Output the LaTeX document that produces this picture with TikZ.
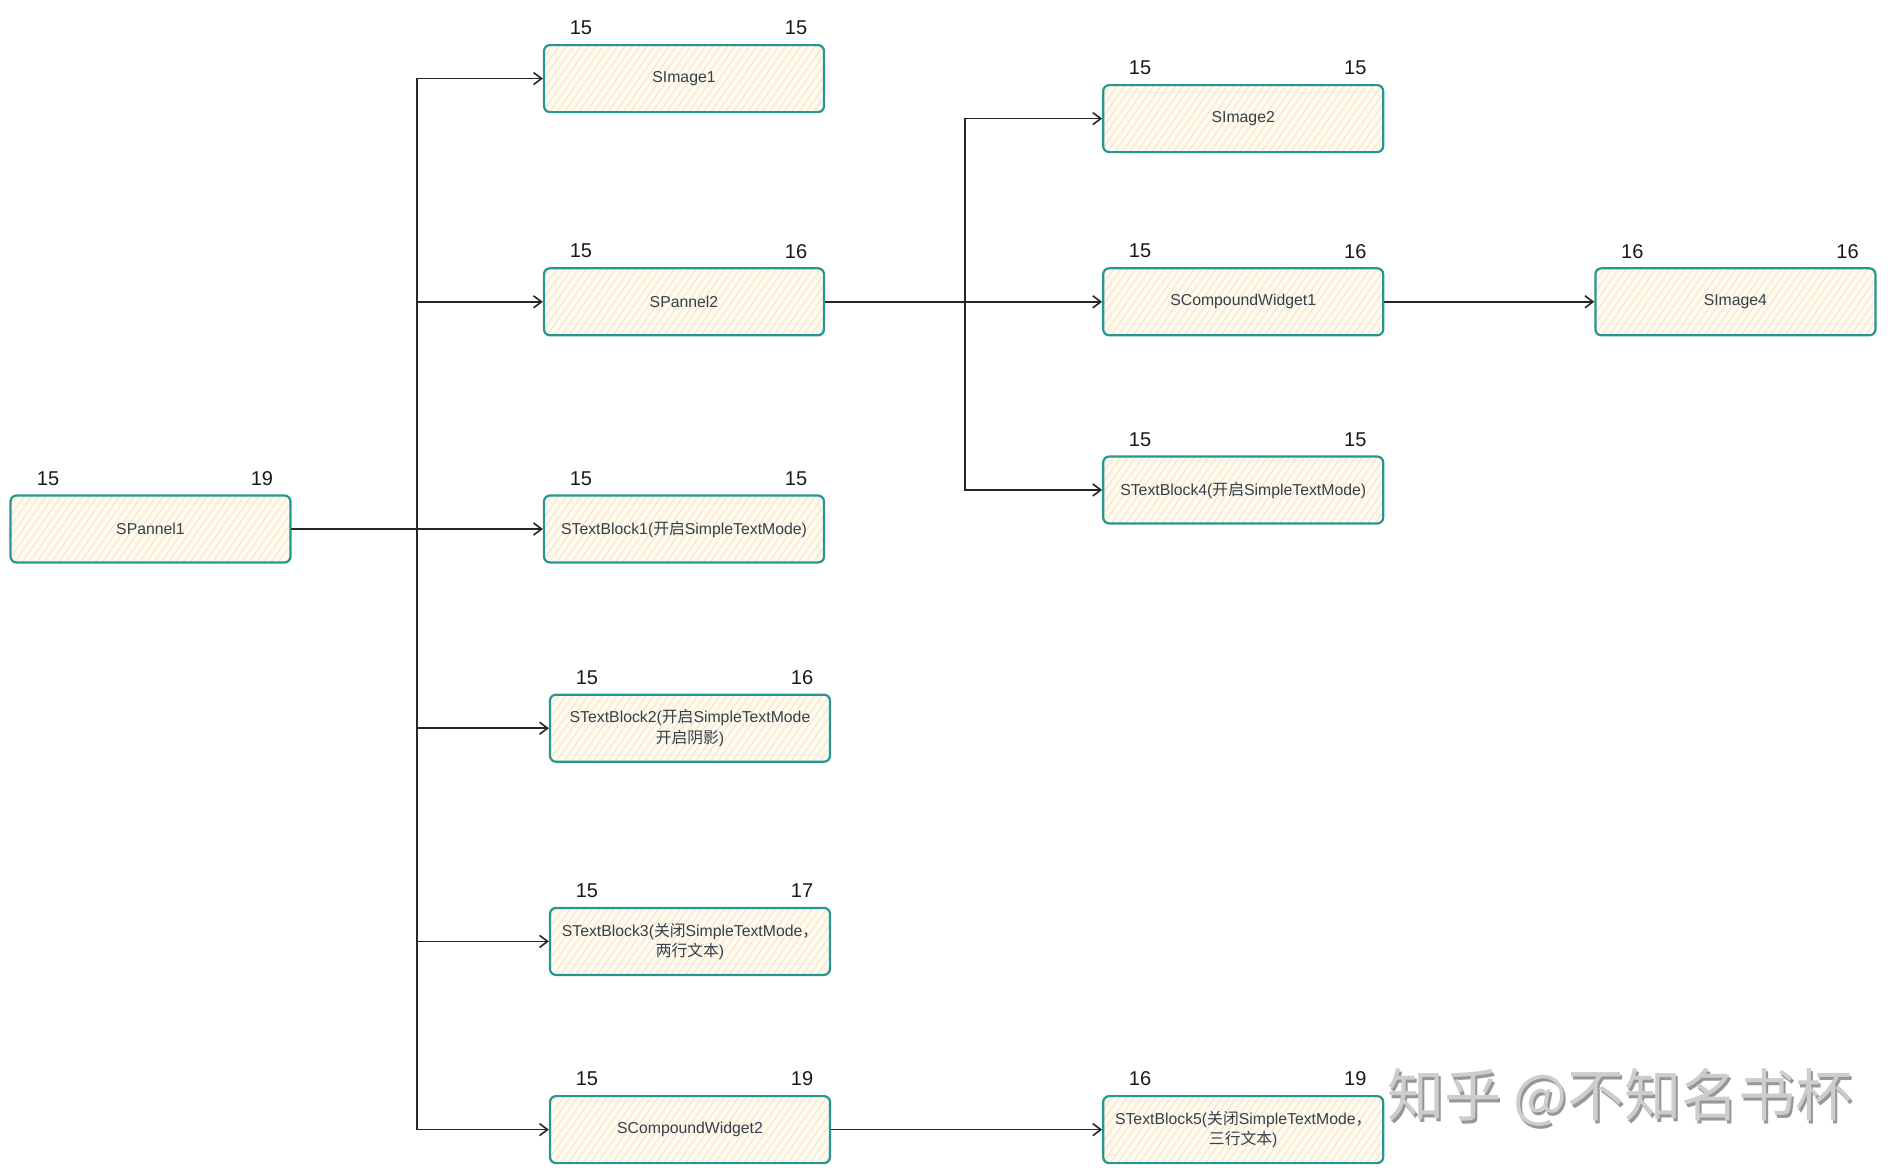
\documentclass[tikz,border=0pt]{standalone}
\usepackage{fontspec}
\setmainfont{Liberation Sans}
\newfontfamily\cjk{Noto Sans CJK SC}
\usetikzlibrary{positioning}
\usetikzlibrary{arrows.meta,patterns.meta}
\definecolor{boxline}{RGB}{38,150,145}
\definecolor{boxfill}{RGB}{254,250,240}
\definecolor{hatch}{RGB}{247,224,186}
\definecolor{boxtext}{RGB}{52,64,74}
\definecolor{markgray}{RGB}{205,205,205}
\definecolor{markshade}{RGB}{150,150,150}
\tikzset{block/.style 2 args={draw=boxline,line width=1.1pt,rounded corners=3pt,
    minimum width=140pt,minimum height=33.5pt,inner sep=2pt,align=center,
    preaction={fill=boxfill},pattern={Lines[angle=55,distance=3pt,line width=0.4pt]},
    pattern color=hatch,text=boxtext,font=\fontsize{7.9}{10.3}\selectfont,
    label={[numleft]north west:#1},label={[numright]north east:#2}},
    numleft/.style={anchor=center,xshift=19pt,yshift=8pt,
    font=\fontsize{10}{10}\selectfont,text=black!90},
    numright/.style={anchor=center,xshift=-14.5pt,yshift=8pt,
    font=\fontsize{10}{10}\selectfont,text=black!90},
    linkarrow/.style={-{Straight Barb[length=4pt,width=6pt]},
    line width=0.8pt,black!85},
    linkline/.style={-,line width=0.8pt,black!85}}

\begin{document}
\begin{tikzpicture}[x=0.5pt,y=-0.5pt]
        \useasboundingbox (0,0) rectangle (1901,1169);
        \node[block={15}{19}] (pannel1) at (150.5,529) {SPannel1};
        \node[block={15}{15},right=126pt of pannel1] (textblock1)
            {STextBlock1({\cjk 开启}SimpleTextMode)};
        \node[block={15}{16},above=79pt of textblock1] (pannel2) {SPannel2};
        \node[block={15}{15},above=77pt of pannel2] (image1) {SImage1};
        \node[block={15}{16},below=65pt of textblock1,xshift=3pt] (textblock2)
            {STextBlock2({\cjk 开启}SimpleTextMode\\{\cjk 开启阴影})};
        \node[block={15}{17},below=72pt of textblock2] (textblock3)
            {STextBlock3({\cjk 关闭}SimpleTextMode{\cjk ，}\\{\cjk 两行文本})};
        \node[block={15}{19},below=59.5pt of textblock3] (compound2) {SCompoundWidget2};
        \node[block={15}{16},right=138.5pt of pannel2] (compound1) {SCompoundWidget1};
        \node[block={15}{15},above=57pt of compound1] (image2) {SImage2};
        \node[block={15}{15},below=59.5pt of compound1] (textblock4)
            {STextBlock4({\cjk 开启}SimpleTextMode)};
        \node[block={16}{16},right=105pt of compound1] (image4) {SImage4};
        \node[block={16}{19},right=135.5pt of compound2] (textblock5)
            {STextBlock5({\cjk 关闭}SimpleTextMode{\cjk ，}\\{\cjk 三行文本})};
        % watermark
        \node[text=markshade,font=\cjk\fontsize{28.5}{28.5}\selectfont]
            (markshadow) at (1622,1100) {知乎 @不知名书杯};
        \node[text=markgray,font=\cjk\fontsize{28.5}{28.5}\selectfont]
            (watermark) at (1620,1097) {知乎 @不知名书杯};
        \coordinate (trunk1) at ([xshift=63pt]pannel1.east);
        \coordinate (trunk2) at ([xshift=70pt]pannel2.east);
        \draw[linkline](pannel1.east)--(trunk1);
        \draw[linkarrow](trunk1)|-(image1.west);
        \draw[linkarrow](trunk1)|-(pannel2.west);
        \draw[linkarrow](trunk1)|-(textblock1.west);
        \draw[linkarrow](trunk1)|-(textblock2.west);
        \draw[linkarrow](trunk1)|-(textblock3.west);
        \draw[linkarrow](trunk1)|-(compound2.west);
        \draw[linkline](pannel2.east)--(trunk2);
        \draw[linkarrow](trunk2)|-(image2.west);
        \draw[linkarrow](trunk2)|-(compound1.west);
        \draw[linkarrow](trunk2)|-(textblock4.west);
        \draw[linkarrow](compound1)--(image4);
        \draw[linkarrow](compound2)--(textblock5);
    \end{tikzpicture}
\end{document}
